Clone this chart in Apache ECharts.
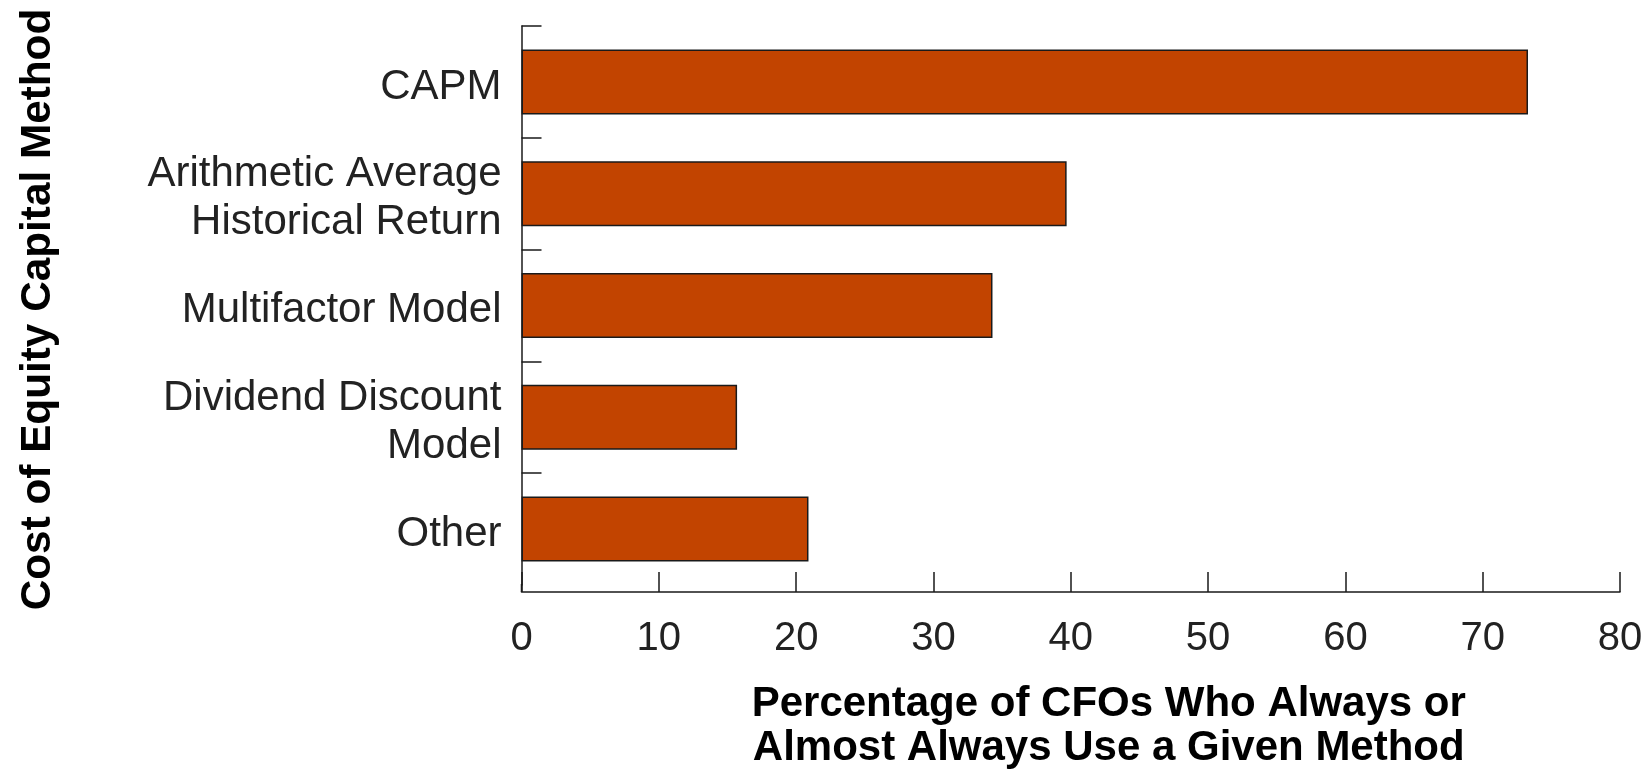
<!DOCTYPE html>
<html>
<head>
<meta charset="utf-8">
<script src="https://cdn.jsdelivr.net/npm/echarts@6/dist/echarts.min.js"></script>
<style>
  html, body { margin: 0; padding: 0; background: #ffffff; }
  #chart { width: 1652px; height: 769px; }
</style>
</head>
<body>
<div id="chart"></div>
<script>
// Survey of CFOs: methods used to estimate the cost of equity capital
const methods = [
  'CAPM',
  'Arithmetic Average\nHistorical Return',
  'Multifactor Model',
  'Dividend Discount\nModel',
  'Other'
];
const percentages = [73.3, 39.7, 34.3, 15.7, 20.9];
const xTicks = [0, 10, 20, 30, 40, 50, 60, 70, 80];

const yTitle = 'Cost of Equity Capital Method';
const xTitle = 'Percentage of CFOs Who Always or\nAlmost Always Use a Given Method';

// category band boundaries that carry a tick (the bottom one sits on the value axis)
const bandTicks = methods.map((_, i) => i);
// label anchors: middle of each band, nudged slightly downward (category units)
const labelNudge = 0.045;
const bandLabels = methods.map((_, i) => i + 0.5 + labelNudge);

const chart = echarts.init(document.getElementById('chart'), null, { renderer: 'canvas' });

const axisColor = '#1a1a1a';
const labelFont = '"Liberation Sans", Arial, Helvetica, sans-serif';

// plot area and the small drop of the value axis below the last category band
const gridLeft = 521.5, gridTop = 26, gridBottom = 184, xAxisDrop = 7;

chart.setOption({
  animation: false,
  backgroundColor: '#ffffff',
  grid: {
    left: gridLeft, right: 32, top: gridTop, bottom: gridBottom,
    containLabel: false, outerBoundsMode: 'none'
  },
  xAxis: {
    type: 'value',
    min: xTicks[0],
    max: xTicks[xTicks.length - 1],
    interval: xTicks[1] - xTicks[0],
    offset: xAxisDrop,
    axisLine: { show: true, onZero: false, lineStyle: { color: axisColor, width: 1.5 } },
    axisTick: { show: true, inside: true, length: 20, lineStyle: { color: axisColor, width: 1.5 } },
    splitLine: { show: false },
    axisLabel: { color: '#222', fontSize: 40, fontFamily: labelFont, margin: 27 },
    name: xTitle,
    nameLocation: 'middle',
    nameGap: 90,
    nameTextStyle: {
      color: '#000',
      fontSize: 42,
      fontWeight: 'bold',
      fontFamily: labelFont,
      lineHeight: 44,
      padding: [0, 0, 0, 76]
    }
  },
  yAxis: [{
    type: 'category',
    data: methods,
    inverse: true,
    boundaryGap: true,
    position: 'left',
    axisLine: { show: true, onZero: false, lineStyle: { color: axisColor, width: 1.5 } },
    axisTick: { show: false },
    axisLabel: { show: false },
    name: yTitle,
    nameLocation: 'middle',
    nameRotate: 90,
    nameGap: 462,
    nameTextStyle: {
      color: '#000',
      fontSize: 42.3,
      fontWeight: 'bold',
      fontFamily: labelFont,
      padding: [0, 8, 0, 0]
    }
  }, {
    // band boundaries and method names, measured in category units from the top
    type: 'value',
    position: 'left',
    offset: 0,
    inverse: true,
    min: 0,
    max: methods.length,
    interval: 1,
    axisLine: { show: false, onZero: false },
    splitLine: { show: false },
    axisTick: {
      show: true, inside: true, length: 20, customValues: bandTicks,
      lineStyle: { color: axisColor, width: 1.5 }
    },
    axisLabel: {
      show: true,
      customValues: bandLabels,
      formatter: (v) => methods[Math.floor(v)] || '',
      color: '#222', fontSize: 42, lineHeight: 48, fontFamily: labelFont,
      margin: 20, align: 'right', verticalAlign: 'middle'
    }
  }],
  series: [{
    type: 'bar',
    yAxisIndex: 0,
    data: percentages,
    barWidth: 65,
    itemStyle: { color: '#C24400', borderColor: '#1a1a1a', borderWidth: 1.5 }
  }]
});

// carry the category axis line down to meet the dropped value axis
const plotBottom = chart.getHeight() - gridBottom;
chart.setOption({
  graphic: [{
    type: 'line',
    silent: true,
    shape: { x1: gridLeft, y1: plotBottom - 1, x2: gridLeft, y2: plotBottom + xAxisDrop },
    style: { stroke: axisColor, lineWidth: 1.5 }
  }]
});
</script>
</body>
</html>
